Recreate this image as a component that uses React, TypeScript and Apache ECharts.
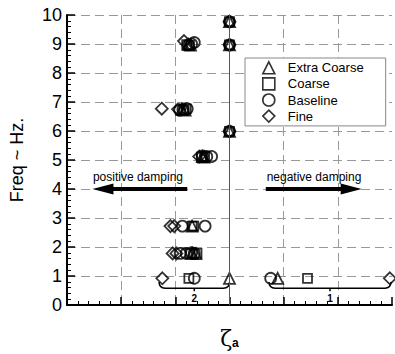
import React, { useEffect, useRef } from "react";
import * as echarts from "echarts";

// ---- data (x = zeta_a, positive damping to the left; y = frequency Hz) ----
const seriesNames = ["Extra Coarse", "Coarse", "Baseline", "Fine"];

const extraCoarse = [
  [0, 9.77], [0, 8.97], [0, 5.99], [0, 0.92], [-0.89, 0.92],
  [0.76, 8.98], [0.72, 8.96], [0.88, 6.75], [0.82, 6.72], [0.5, 5.12], [0.47, 5.1],
  [0.69, 2.72], [0.69, 1.78], [0.62, 1.77],
];
const coarse = [
  [0, 9.77], [0, 8.97], [0, 5.99], [0.75, 0.92], [-1.44, 0.92],
  [0.74, 8.95], [0.79, 8.98], [0.84, 6.72], [0.8, 6.76], [0.46, 5.12], [0.52, 5.1],
  [0.69, 2.72], [0.66, 2.72], [0.73, 1.78], [0.6, 1.78],
];
const baseline = [
  [0, 9.77], [0, 8.97], [0, 5.99], [0.65, 0.92], [-0.76, 0.92],
  [0.7, 9.0], [0.65, 9.05], [0.76, 8.97], [0.78, 6.77], [0.86, 6.74], [0.92, 6.72],
  [0.42, 5.12], [0.33, 5.12], [0.5, 5.14],
  [0.87, 2.72], [0.45, 2.72], [0.91, 1.78], [0.8, 1.78], [0.65, 1.78], [0.7, 1.8],
];
const fine = [
  [0, 9.77], [0, 8.97], [0, 5.99], [1.24, 0.92], [-2.96, 0.92],
  [0.84, 9.1], [1.25, 6.77], [0.95, 6.75], [0.56, 5.12], [1.09, 2.72], [1.02, 2.72],
  [1.05, 1.78], [0.98, 1.78],
];

// annotations (data coordinates)
const arrowLabels = ["positive damping", "negative damping"];
const arrowTail = [0.78, -0.67];
const arrowTip = [2.53, -2.44];
const arrowY = 4;
const labelX = [1.69, -1.56];
const labelY = 4.43;

const braceLabels = ["2", "1"];
const braceStart = [1.3, -0.73];
const braceEnd = [0, -2.98];
const braceLineY = 0.58;
const braceTopY = 0.79;

const FONT = "Liberation Sans, Arial, sans-serif";

export default function App() {
  const ref = useRef<HTMLDivElement>(null);

  useEffect(() => {
    document.body.style.margin = "0";
    const chart = echarts.init(ref.current!, undefined, { renderer: "svg" });

    const markerStyle = { color: "transparent", borderColor: "#000", borderWidth: 1.8 };
    const dashed = { color: "#999", type: [9, 5] as any, width: 1 };

    const option: any = {
      animation: false,
      grid: { left: 62, right: 3, top: 15, bottom: 48 },
      legend: {
        data: seriesNames,
        orient: "vertical",
        left: 245,
        top: 58,
        backgroundColor: "#fff",
        borderColor: "#888",
        borderWidth: 1,
        padding: [3, 22, 3, 17],
        itemGap: 2.5,
        itemWidth: 12,
        itemHeight: 12,
        itemStyle: { color: "transparent", borderColor: "#000", borderWidth: 1.6 },
        textStyle: { fontSize: 13, color: "#000", fontFamily: FONT, padding: [0, 0, 0, 8] },
      },
      xAxis: {
        type: "value",
        min: -3,
        max: 3,
        interval: 1,
        inverse: true,
        axisLine: { show: true, onZero: false, lineStyle: { color: "#000", width: 2 } },
        axisTick: { show: true, inside: true, length: 8, lineStyle: { color: "#000", width: 1.5 } },
        minorTick: { show: true, splitNumber: 5, length: 4, lineStyle: { color: "#000", width: 1 } },
        axisLabel: { show: false },
        splitLine: { show: true, showMinLine: false, lineStyle: dashed },
        name: "{z|ζ}{s|a}",
        nameLocation: "middle",
        nameGap: 22,
        nameTextStyle: {
          rich: {
            z: { fontSize: 22, fontFamily: "DejaVu Serif", color: "#000" },
            s: { fontSize: 12, fontWeight: "bold", fontFamily: FONT, color: "#000", verticalAlign: "bottom" },
          },
        },
      },
      yAxis: {
        type: "value",
        min: 0,
        max: 10,
        interval: 1,
        axisLine: { show: true, onZero: false, lineStyle: { color: "#000", width: 2 } },
        axisTick: { show: true, inside: true, length: 8, lineStyle: { color: "#000", width: 1.5 } },
        minorTick: { show: true, splitNumber: 5, length: 4, lineStyle: { color: "#000", width: 1 } },
        axisLabel: { fontSize: 18, color: "#000", fontFamily: FONT, margin: 5 },
        splitLine: { show: true, lineStyle: dashed },
        name: "Freq ~ Hz.",
        nameLocation: "middle",
        nameGap: 41,
        nameTextStyle: { fontSize: 18, color: "#000", fontFamily: FONT },
      },
      series: [
        {
          name: "Extra Coarse",
          type: "scatter",
          symbol: "triangle",
          symbolSize: 11,
          itemStyle: markerStyle,
          data: extraCoarse,
          markLine: {
            silent: true,
            symbol: "none",
            label: { show: false },
            lineStyle: { color: "#555", width: 1, type: "solid" },
            data: [{ xAxis: 0 }],
          },
          z: 3,
        },
        { name: "Coarse", type: "scatter", symbol: "rect", symbolSize: 9, itemStyle: markerStyle, data: coarse, z: 3 },
        { name: "Baseline", type: "scatter", symbol: "circle", symbolSize: 11, itemStyle: markerStyle, data: baseline, z: 3 },
        { name: "Fine", type: "scatter", symbol: "diamond", symbolSize: 12, itemStyle: markerStyle, data: fine, z: 3 },
        {
          name: "arrows",
          type: "custom",
          coordinateSystem: "cartesian2d",
          silent: true,
          z: 4,
          data: arrowTail.map((t, i) => [t, arrowY, arrowTip[i], arrowY]),
          renderItem: (params: any, api: any) => {
            const i = params.dataIndex;
            const tail = api.coord([arrowTail[i], arrowY]);
            const tip = api.coord([arrowTip[i], arrowY]);
            const dir = Math.sign(tip[0] - tail[0]);
            const headLen = 21;
            const headHalf = 5.5;
            const base = tip[0] - dir * headLen;
            const lbl = api.coord([labelX[i], labelY]);
            return {
              type: "group",
              children: [
                { type: "line", shape: { x1: tail[0], y1: tail[1], x2: base + dir * 2, y2: tip[1] }, style: { stroke: "#000", lineWidth: 4 } },
                {
                  type: "polygon",
                  shape: { points: [[tip[0], tip[1]], [base, tip[1] - headHalf], [base, tip[1] + headHalf]] },
                  style: { fill: "#000" },
                },
                {
                  type: "text",
                  style: {
                    text: arrowLabels[i], x: lbl[0], y: lbl[1], align: "center", verticalAlign: "middle",
                    fontSize: 12, fontFamily: FONT, fill: "#000",
                  },
                },
              ],
            };
          },
        },
        {
          name: "braces",
          type: "custom",
          coordinateSystem: "cartesian2d",
          silent: true,
          z: 4,
          data: braceStart.map((s, i) => [s, braceLineY, braceEnd[i], braceTopY]),
          renderItem: (params: any, api: any) => {
            const i = params.dataIndex;
            const a = api.coord([braceStart[i], braceLineY]);
            const b = api.coord([braceEnd[i], braceLineY]);
            const top = api.coord([braceStart[i], braceTopY])[1];
            const L = Math.min(a[0], b[0]);
            const R = Math.max(a[0], b[0]);
            const y = a[1];
            const r = y - top;
            const mid = (L + R) / 2;
            const d =
              `M${L},${top} Q${L},${y} ${L + r},${y} L${R - r},${y} Q${R},${y} ${R},${top}` +
              ` M${mid},${y} L${mid},${y + 3}`;
            return {
              type: "group",
              children: [
                { type: "path", shape: { pathData: d }, style: { fill: "none", stroke: "#000", lineWidth: 1.5 } },
                {
                  type: "text",
                  style: {
                    text: braceLabels[i], x: mid, y: y + 10, align: "center", verticalAlign: "middle",
                    fontSize: 10, fontWeight: "bold", fontFamily: FONT, fill: "#000",
                  },
                },
              ],
            };
          },
        },
      ],
    };

    chart.setOption(option);
    return () => chart.dispose();
  }, []);

  return <div ref={ref} style={{ width: 395, height: 354 }} />;
}
